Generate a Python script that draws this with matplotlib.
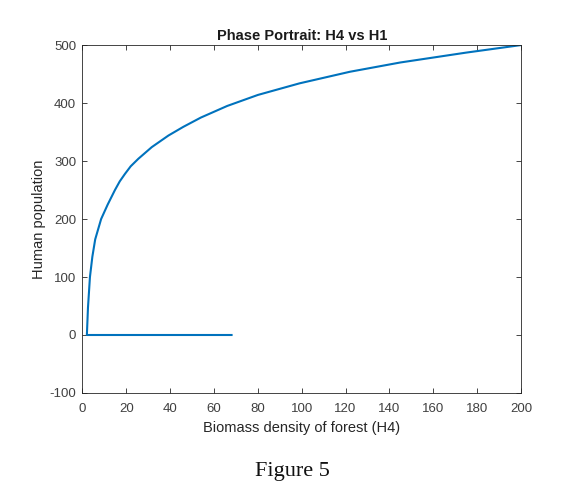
import matplotlib.pyplot as plt

# trajectory (H4 on x, H1 on y)
h4 = [68, 2, 2.5, 3.4, 4.5, 5.8, 8.5, 11.5, 14.8, 17, 19.4, 22, 25.5, 31.6, 39.2, 46, 54, 66,
      80, 99, 122, 145, 175, 200]
h1 = [0, 0, 47, 100, 135, 165, 200, 225, 250, 265, 278, 291, 304, 324, 344, 359, 375, 395,
      414, 434, 454, 470, 487, 500]

xticks = list(range(0, 201, 20))
yticks = list(range(-100, 501, 100))

plt.rcParams['font.family'] = ['Liberation Sans', 'DejaVu Sans']
plt.rcParams['axes.unicode_minus'] = False

fig = plt.figure(figsize=(5.65, 4.9), dpi=100)
ax = fig.add_axes([0.146, 0.198, 0.776, 0.71])

ax.plot(h4, h1, color='#0072BD', linewidth=1.5)

ax.set_xlim(0, 200)
ax.set_ylim(-100, 500)
ax.set_xticks(xticks)
ax.set_yticks(yticks)
ax.tick_params(direction='in', top=True, right=True, length=3.5, width=0.6,
               colors='#262626', labelcolor='#404040', labelsize=9.5, pad=4.5)
ax.tick_params(axis='x', pad=7.5)
for s in ax.spines.values():
    s.set_color('#262626')
    s.set_linewidth(0.6)

ax.set_title('Phase Portrait: H4 vs H1', fontsize=10.5, fontweight='bold', color='#1a1a1a', pad=4)
ax.set_xlabel('Biomass density of forest (H4)', fontsize=10.5, color='#262626', labelpad=4)
ax.set_ylabel('Human population', fontsize=10.5, color='#262626', labelpad=2.5)

fig.text(0.517, 0.0286, 'Figure 5', ha='center', va='baseline', fontsize=16,
         family=['Liberation Serif', 'DejaVu Serif'], color='#111111')

fig.savefig('out.png', dpi=100)
